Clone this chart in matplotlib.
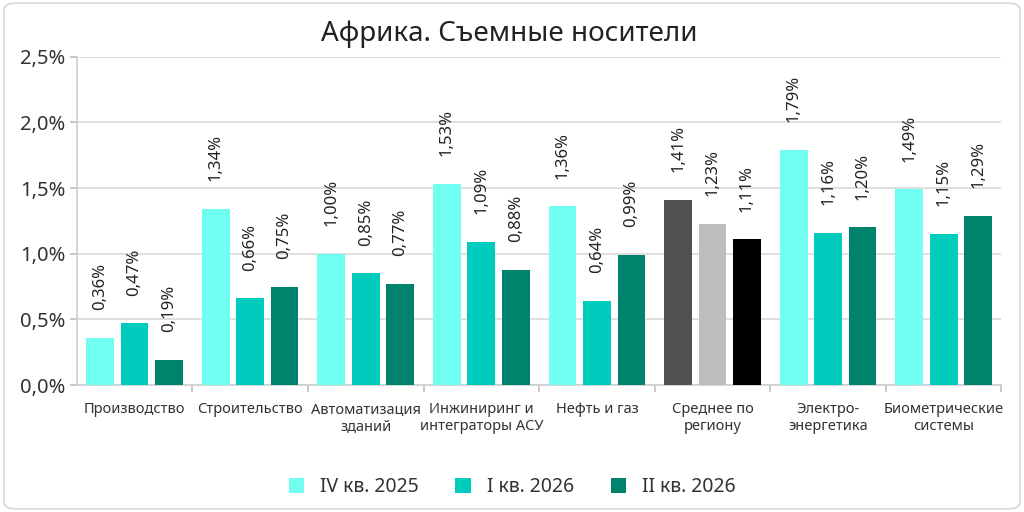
import matplotlib
matplotlib.use("Agg")
import matplotlib.pyplot as plt
from matplotlib.ticker import FuncFormatter, MultipleLocator, FixedLocator
from matplotlib.patches import FancyBboxPatch, Patch
import numpy as np

plt.rcParams['font.family'] = ['Noto Sans', 'DejaVu Sans']

title = "Африка. Съемные носители"
categories = ["Производство", "Строительство", "Автоматизация\nзданий",
              "Инжиниринг и\nинтеграторы АСУ", "Нефть и газ", "Среднее по\nрегиону",
              "Электро-\nэнергетика", "Биометрические\nсистемы"]
series_names = ["IV кв. 2025", "I кв. 2026", "II кв. 2026"]
q4_2025 = [0.36, 1.34, 1.00, 1.53, 1.36, 1.41, 1.79, 1.49]
q1_2026 = [0.47, 0.66, 0.85, 1.09, 0.64, 1.23, 1.16, 1.15]
q2_2026 = [0.19, 0.75, 0.77, 0.88, 0.99, 1.11, 1.20, 1.29]
avg_index = 5

colors = ["#70fff0", "#00ccbe", "#00836c"]
avg_colors = ["#505050", "#bdbdbd", "#000000"]

fig = plt.figure(figsize=(10.24, 5.12), dpi=100)
border = FancyBboxPatch((0.004, 0.006), 0.992, 0.988, boxstyle="round,pad=0,rounding_size=0.012",
                        transform=fig.transFigure, facecolor="none", edgecolor="#d9d9d9",
                        linewidth=1.2, zorder=10)
fig.patches.append(border)

ax = fig.add_axes([0.075, 0.248, 0.903, 0.641])
ax.set_facecolor("none")
series = [q4_2025, q1_2026, q2_2026]
x = np.arange(len(categories))
offsets = [-0.298, 0.0, 0.298]
width = 0.24
fmt = lambda v: f"{v:.2f}%".replace(".", ",")

for i, (vals, off) in enumerate(zip(series, offsets)):
    cols = [avg_colors[i] if j == avg_index else colors[i] for j in range(len(vals))]
    bars = ax.bar(x + off, vals, width, color=cols, label=series_names[i], zorder=3)
    for b, v in zip(bars, vals):
        ax.annotate(fmt(v), (b.get_x() + b.get_width() / 2, v), xytext=(0, 20),
                    textcoords="offset points", rotation=90, ha="center", va="bottom",
                    fontsize=12, color="#222222")

ax.set_xlim(-0.5, len(categories) - 0.5)
ax.set_ylim(0, 2.5)
ax.yaxis.set_major_locator(MultipleLocator(0.5))
ax.yaxis.set_major_formatter(FuncFormatter(lambda v, p: f"{v:.1f}%".replace(".", ",")))
ax.grid(axis="y", color="#d9d9d9", linewidth=1.2, zorder=0)
ax.set_axisbelow(True)

ax.xaxis.set_major_locator(FixedLocator(x))
ax.set_xticklabels(categories, fontsize=10.5, color="#333333", linespacing=1.25)
ax.xaxis.set_minor_locator(FixedLocator(np.arange(len(categories)) + 0.5))
ax.tick_params(axis="x", which="major", length=0, pad=12)
ax.tick_params(axis="x", which="minor", length=5, color="#bfbfbf", width=1.2)
ax.tick_params(axis="y", length=5, color="#bfbfbf", width=1.2, labelsize=14.5, labelcolor="#333333", pad=3)

for s in ["top", "right"]:
    ax.spines[s].set_visible(False)
ax.spines["left"].set_color("#cfcfcf")
ax.spines["left"].set_linewidth(1.2)
ax.spines["bottom"].set_color("#cfcfcf")
ax.spines["bottom"].set_linewidth(1.2)

fig.text(0.497, 0.933, title, ha="center", va="center", fontsize=20, color="#222222")

leg_handles = [Patch(facecolor=c) for c in colors]
fig.legend(leg_handles, series_names, loc="center", bbox_to_anchor=(0.5, 0.048), ncol=3,
           frameon=False, fontsize=14, handlelength=0.8, handleheight=0.8, columnspacing=1.9,
           handletextpad=0.8, labelcolor="#333333")

fig.savefig("out.png", dpi=100)
